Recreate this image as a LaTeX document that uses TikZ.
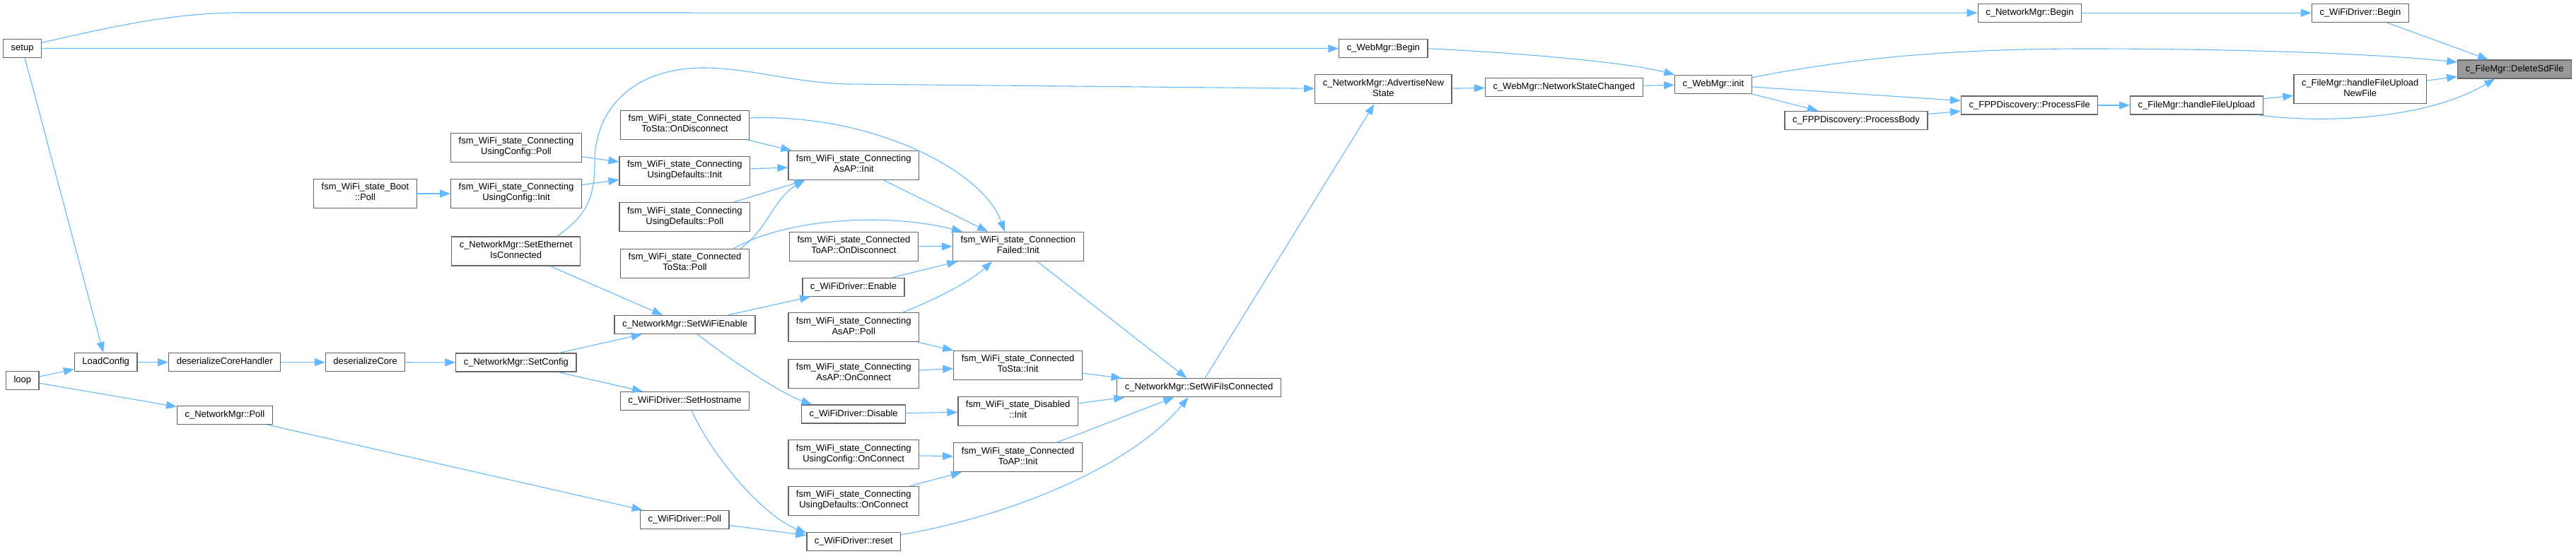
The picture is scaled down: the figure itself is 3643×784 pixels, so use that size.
\documentclass[tikz,border=0pt]{standalone}
\usepackage{fontspec}
\setmainfont{Liberation Sans}
\usepackage{tikz}
\usetikzlibrary{arrows.meta}

\definecolor{edgeblue}{HTML}{63B8FF}
\definecolor{boxline}{HTML}{666666}
\definecolor{selfill}{HTML}{999999}

\tikzset{
  fn/.style={draw=boxline, line width=1.2pt, fill=white, inner xsep=11pt, inner ysep=0pt,
    minimum height=26pt, align=center, font=\fontsize{13}{15}\selectfont,
    execute at begin node=\strut, execute at end node=\strut},
  fnn/.style={fn, minimum height=41pt},
  fnsel/.style={fn, fill=selfill},
  call/.style={draw=edgeblue, line width=1.1pt, -{Triangle[length=15pt,width=11pt]}},
}

\begin{document}
\begin{tikzpicture}[x=1pt, y=-1pt]
    \useasboundingbox (0,0) rectangle (3643,784);
    % column 1-3
    \node[fn] (setup) at (31.6,68.7) {setup};
    \node[fn] (loop) at (31.8,538.2) {loop};
    \node[fn] (loadcfg) at (149.7,512.7) {LoadConfig};
    \node[fn] (deshandler) at (317.7,512.7) {deserializeCoreHandler};
    \node[fn] (nmpoll) at (317.9,587.3) {c\_NetworkMgr::Poll};
    \node[fn] (descore) at (516.6,512.7) {deserializeCore};
    \node[fnn] (bootpoll) at (516.5,274) {fsm\_WiFi\_state\_Boot\\::Poll};
    % column 4
    \node[fnn] (ucpoll) at (730,208.8) {fsm\_WiFi\_state\_Connecting\\UsingConfig::Poll};
    \node[fnn] (ucinit) at (730,274) {fsm\_WiFi\_state\_Connecting\\UsingConfig::Init};
    \node[fnn] (setether) at (729.6,355.5) {c\_NetworkMgr::SetEthernet\\IsConnected};
    \node[fn] (setcfg) at (729.9,513) {c\_NetworkMgr::SetConfig};
    % column 5
    \node[fnn] (stadisc) at (968.5,176.7) {fsm\_WiFi\_state\_Connected\\ToSta::OnDisconnect};
    \node[fnn] (udinit) at (968.3,242) {fsm\_WiFi\_state\_Connecting\\UsingDefaults::Init};
    \node[fnn] (udpoll) at (968.3,307.3) {fsm\_WiFi\_state\_Connecting\\UsingDefaults::Poll};
    \node[fnn] (stapoll) at (968.5,372.8) {fsm\_WiFi\_state\_Connected\\ToSta::Poll};
    \node[fn] (setwifi) at (968.5,459.5) {c\_NetworkMgr::SetWiFiEnable};
    \node[fn] (hostname) at (968.5,567.5) {c\_WiFiDriver::SetHostname};
    \node[fn] (wdpoll) at (968.3,735.3) {c\_WiFiDriver::Poll};
    % column 6
    \node[fnn] (apinit) at (1207.2,234) {fsm\_WiFi\_state\_Connecting\\AsAP::Init};
    \node[fnn] (apdisc) at (1207.4,348.8) {fsm\_WiFi\_state\_Connected\\ToAP::OnDisconnect};
    \node[fn] (wdenable) at (1207,406.2) {c\_WiFiDriver::Enable};
    \node[fnn] (appoll) at (1207.2,463.3) {fsm\_WiFi\_state\_Connecting\\AsAP::Poll};
    \node[fnn] (aponconn) at (1207.2,528.8) {fsm\_WiFi\_state\_Connecting\\AsAP::OnConnect};
    \node[fn] (wddisable) at (1207.2,586) {c\_WiFiDriver::Disable};
    \node[fnn] (uconconn) at (1207.2,643.3) {fsm\_WiFi\_state\_Connecting\\UsingConfig::OnConnect};
    \node[fnn] (udonconn) at (1207.2,708.8) {fsm\_WiFi\_state\_Connecting\\UsingDefaults::OnConnect};
    \node[fn] (wdreset) at (1207.2,766.2) {c\_WiFiDriver::reset};
    % column 7-8
    \node[fnn] (cfinit) at (1439.8,348.8) {fsm\_WiFi\_state\_Connection\\Failed::Init};
    \node[fnn] (stainit) at (1439.6,516.8) {fsm\_WiFi\_state\_Connected\\ToSta::Init};
    \node[fnn] (disinit) at (1439.6,581.8) {fsm\_WiFi\_state\_Disabled\\::Init};
    \node[fnn] (toapinit) at (1439.6,647.3) {fsm\_WiFi\_state\_Connected\\ToAP::Init};
    \node[fn] (wificonn) at (1695.6,548.7) {c\_NetworkMgr::SetWiFiIsConnected};
    % right part
    \node[fn] (webbegin) at (1956.4,68.7) {c\_WebMgr::Begin};
    \node[fnn] (advert) at (1956.4,126.2) {c\_NetworkMgr::AdvertiseNew\\State};
    \node[fn] (netchanged) at (2211.8,123.3) {c\_WebMgr::NetworkStateChanged};
    \node[fn] (wminit) at (2422.9,119.3) {c\_WebMgr::init};
    \node[fn] (procbody) at (2625,170.2) {c\_FPPDiscovery::ProcessBody};
    \node[fn] (procfile) at (2870.2,149) {c\_FPPDiscovery::ProcessFile};
    \node[fn] (nmbegin) at (2870.4,18.2) {c\_NetworkMgr::Begin};
    \node[fn] (fupload) at (3106.4,149) {c\_FileMgr::handleFileUpload};
    \node[fnn] (fuploadnew) at (3337.7,126.2) {c\_FileMgr::handleFileUpload\\NewFile};
    \node[fn] (wdbegin) at (3337.9,18.2) {c\_WiFiDriver::Begin};
    \node[fnsel] (delsd) at (3556.2,98) {c\_FileMgr::DeleteSdFile};

    % straight calls
    \foreach \a/\b in {setup/webbegin, setup/loadcfg, loop/loadcfg, loop/nmpoll,
        loadcfg/deshandler, deshandler/descore, descore/setcfg, nmpoll/wdpoll,
        bootpoll/ucinit, ucpoll/udinit, ucinit/udinit, setether/setwifi,
        stadisc/apinit, udinit/apinit, udpoll/apinit, apinit/cfinit, apdisc/cfinit,
        wdenable/cfinit, cfinit/wificonn, setcfg/setwifi, setcfg/hostname,
        setwifi/wdenable, wdpoll/wdreset, appoll/stainit, aponconn/stainit,
        wddisable/disinit, uconconn/toapinit, udonconn/toapinit, stainit/wificonn,
        disinit/wificonn, toapinit/wificonn, wificonn/advert, advert/netchanged,
        netchanged/wminit, wminit/procfile, wminit/procbody, procbody/procfile,
        procfile/fupload, fupload/fuploadnew, fuploadnew/delsd, nmbegin/wdbegin,
        wdbegin/delsd}
      \draw[call] (\a) -- (\b);

    % curved calls
    \draw[call] (setup.17) .. controls (150,40) and (240,18) .. (340,18) -- (nmbegin);
    \draw[call] (setether.20) .. controls (830,305) and (841,280) .. (841,230)
      .. controls (841,150) and (900,96) .. (995,96)
      .. controls (1060,96) and (1120,117) .. (1200,119) -- (advert);
    \draw[call] (stadisc.6) .. controls (1230,160) and (1390,240) .. (cfinit.132);
    \draw[call] (stapoll.15) .. controls (1085,325) and (1095,280) .. (apinit.-163);
    \draw[call] (stapoll.17) .. controls (1110,310) and (1250,300) .. (cfinit.165);
    \draw[call] (appoll.17) .. controls (1320,425) and (1370,400) .. (cfinit.-150);
    \draw[call] (setwifi.-37) .. controls (1020,500) and (1100,555) .. (wddisable.167);
    \draw[call] (hostname.-55) .. controls (1010,650) and (1080,730) .. (wdreset.170);
    \draw[call] (wdreset.8) .. controls (1430,730) and (1600,660) .. (wificonn.-138);
    \draw[call] (webbegin.east) .. controls (2150,75) and (2300,88) .. (wminit.166);
    \draw[call] (wminit.10) .. controls (2620,82) and (2760,69) .. (2950,69)
      .. controls (3150,69) and (3350,75) .. (delsd.173);
    \draw[call] (fupload.-9) .. controls (3280,175) and (3430,170) .. (delsd.-154);
\end{tikzpicture}
\end{document}
